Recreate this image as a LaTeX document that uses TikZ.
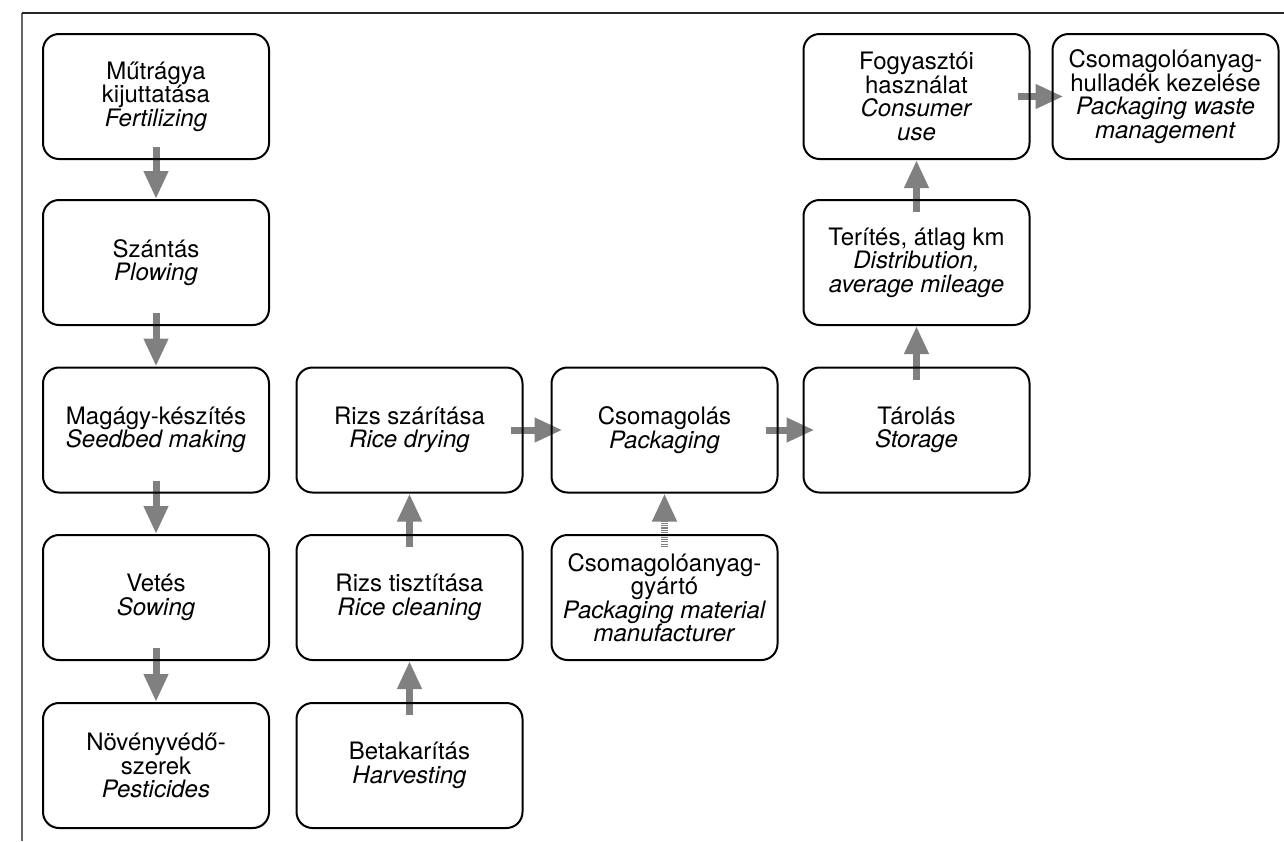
\documentclass[tikz,border=0pt]{standalone}
\usepackage{fontspec}
\setmainfont{TeX Gyre Heros}
\usetikzlibrary{arrows.meta,backgrounds}
\definecolor{arrowgray}{RGB}{128,128,128}

\begin{document}
\begin{tikzpicture}[x=1pt,y=-1pt,
            stage/.style={draw=black,line width=2pt,rounded corners=16pt,
              minimum width=226pt,minimum height=125pt,inner sep=0pt,
              align=center,font=\fontsize{24}{23.5}\selectfont},
            flow/.style={-{Triangle[length=28pt,width=23pt]},arrowgray,
              line width=7pt,shorten <=-13pt},
            flowh/.style={flow,shorten >=-12pt},
            supply/.style={flow,dash pattern=on 1.2pt off 1.1pt}]
 \useasboundingbox (0,0) rectangle (1284,841);
 % frame
 \draw[gray!80!black,line width=1.2pt] (22,841) -- (22,13);
 \draw[black!85,line width=1.2pt] (22,13) -- (1284,13);

 % field work
 \node[stage] (mut) at (156,96.5) {Műtrágya\\kijuttatása\\\textit{Fertilizing}};
 \node[stage] (szant) at (156,262.5) {Szántás\\\textit{Plowing}};
 \node[stage] (mag) at (156,430) {Magágy-készítés\\\textit{Seedbed making}};
 \node[stage] (vetes) at (156,597.5) {Vetés\\\textit{Sowing}};
 \node[stage] (noveny) at (156,765.5) {Növényvédő-\\szerek\\\textit{Pesticides}};

 % processing
 \node[stage] (betak) at (409.5,765.5) {Betakarítás\\\textit{Harvesting}};
 \node[stage] (tiszt) at (409.5,597.5) {Rizs tisztítása\\\textit{Rice cleaning}};
 \node[stage] (szarit) at (409.5,430) {Rizs szárítása\\\textit{Rice drying}};
 \node[stage] (csom) at (664.5,430) {Csomagolás\\\textit{Packaging}};
 \node[stage] (gyarto) at (664.5,597.5) {Csomagolóanyag-\\gyártó\\\textit{Packaging material}\\\textit{manufacturer}};

 % distribution and use
 \node[stage] (tarol) at (916.5,430) {Tárolás\\\textit{Storage}};
 \node[stage] (terit) at (916.5,262.5) {Terítés, átlag km\\\textit{Distribution,}\\\textit{average mileage}};
 \node[stage] (fogy) at (916.5,96.5) {Fogyasztói\\használat\\\textit{Consumer}\\\textit{use}};
 \node[stage] (hull) at (1165.5,96.5) {Csomagolóanyag-\\hulladék kezelése\\\textit{Packaging waste}\\\textit{management}};

 \begin{scope}[on background layer]
   \draw[flow] (mut) -- (szant);
   \draw[flow] (szant) -- (mag);
   \draw[flow] (mag) -- (vetes);
   \draw[flow] (vetes) -- (noveny);
   \draw[flow] (betak) -- (tiszt);
   \draw[flow] (tiszt) -- (szarit);
   \draw[flowh] (szarit) -- (csom);
   \draw[supply] (gyarto) -- (csom);
   \draw[flowh] (csom) -- (tarol);
   \draw[flow] (tarol) -- (terit);
   \draw[flow] (terit) -- (fogy);
   \draw[flowh] (fogy) -- (hull);
 \end{scope}
\end{tikzpicture}
\end{document}
